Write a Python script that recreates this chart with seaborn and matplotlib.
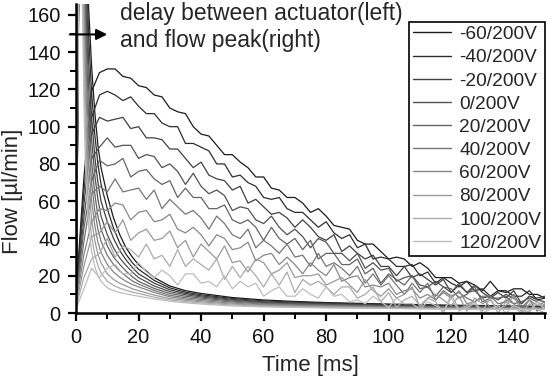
import matplotlib
matplotlib.use('Agg')
import matplotlib.pyplot as plt
from matplotlib.ticker import MultipleLocator
import seaborn as sns

# ---- data -------------------------------------------------------------------
labels = ['-60/200V', '-40/200V', '-20/200V', '0/200V', '20/200V',
          '40/200V', '60/200V', '80/200V', '100/200V', '120/200V']

# measured flow [ul/min], sampled every 2.5 ms
t_flow = [0, 2.5, 5, 7.5, 10, 12.5, 15, 17.5, 20, 22.5, 25, 27.5, 30, 32.5, 35,
          37.5, 40, 42.5, 45, 47.5, 50, 52.5, 55, 57.5, 60, 62.5, 65, 67.5, 70,
          72.5, 75, 77.5, 80, 82.5, 85, 87.5, 90, 92.5, 95, 97.5, 100, 102.5,
          105, 107.5, 110, 112.5, 115, 117.5, 120, 122.5, 125, 127.5, 130,
          132.5, 135, 137.5, 140, 142.5, 145, 147.5, 150]

flow_m60 = [10, 72, 119, 129, 131, 131, 127, 126, 122, 121,
            117, 116, 110, 108, 107, 100, 96, 95, 90, 85,
            85, 81, 78, 73, 73, 67, 66, 62, 62, 59,
            54, 56, 52, 47, 46, 45, 39, 37, 37, 33,
            29, 30, 29, 25, 27, 24, 19, 19, 19, 16,
            17, 15, 12, 17, 12, 11, 13, 13, 10, 10, 8]
flow_m40 = [9, 65, 105, 117, 119, 117, 114, 116, 111, 107,
            107, 102, 100, 100, 91, 91, 89, 87, 80, 80,
            73, 74, 70, 68, 62, 61, 62, 56, 54, 54,
            50, 46, 49, 43, 40, 42, 35, 37, 29, 30,
            29, 25, 25, 26, 20, 22, 16, 19, 16, 14,
            17, 12, 13, 9, 12, 12, 9, 9, 12, 7, 8]
flow_m20 = [8, 58, 96, 105, 103, 104, 105, 99, 100, 94,
            94, 93, 88, 88, 83, 78, 81, 74, 72, 71,
            66, 68, 59, 61, 57, 53, 54, 51, 46, 50,
            46, 41, 39, 42, 33, 36, 32, 29, 31, 25,
            25, 20, 25, 19, 21, 18, 15, 18, 11, 15,
            11, 15, 11, 8, 11, 8, 12, 5, 9, 8, 9]
flow_0 = [7, 51, 83, 89, 94, 89, 90, 90, 83, 85,
          84, 78, 80, 76, 69, 75, 68, 64, 66, 63,
          55, 57, 56, 50, 48, 52, 46, 42, 45, 41,
          35, 40, 38, 32, 32, 28, 32, 24, 27, 23,
          24, 17, 19, 20, 15, 14, 17, 14, 11, 16,
          11, 12, 8, 9, 7, 10, 8, 5, 9, 7, 6]
flow_20 = [7, 45, 71, 82, 79, 80, 83, 73, 76, 77,
           72, 69, 71, 62, 67, 62, 62, 56, 56, 58,
           50, 48, 50, 46, 39, 46, 40, 37, 40, 34,
           39, 29, 32, 32, 26, 26, 29, 21, 24, 16,
           21, 18, 15, 20, 13, 14, 9, 14, 13, 8,
           10, 14, 6, 8, 8, 9, 5, 6, 8, 6, 3]
flow_40 = [6, 38, 64, 68, 65, 72, 65, 66, 67, 61,
           66, 56, 61, 57, 53, 55, 51, 45, 52, 48,
           42, 40, 45, 35, 39, 36, 32, 37, 30, 31,
           25, 32, 25, 27, 24, 20, 25, 16, 21, 15,
           20, 15, 10, 16, 11, 16, 7, 12, 9, 11,
           8, 6, 9, 9, 5, 6, 10, 3, 7, 1, 5]
flow_60 = [5, 31, 49, 56, 55, 59, 58, 50, 54, 55,
           49, 50, 53, 45, 43, 46, 42, 36, 42, 40,
           34, 35, 38, 28, 31, 32, 26, 30, 26, 21,
           27, 23, 20, 26, 17, 19, 20, 14, 15, 14,
           16, 10, 12, 13, 8, 10, 7, 11, 8, 12,
           5, 6, 8, 3, 3, 7, 5, 1, 7, 4, 6]
flow_80 = [4, 25, 41, 43, 49, 43, 50, 39, 43, 45,
           39, 40, 44, 35, 39, 30, 37, 33, 29, 36,
           27, 28, 22, 29, 27, 21, 23, 27, 19, 20,
           20, 21, 15, 17, 19, 15, 11, 18, 12, 9,
           13, 8, 10, 14, 3, 8, 10, 7, 4, 9,
           1, 8, 5, 7, 2, 4, 9, 1, 1, 6, 3]
flow_100 = [3, 19, 29, 32, 40, 30, 36, 34, 30, 37,
            29, 31, 25, 34, 25, 29, 26, 23, 29, 18,
            25, 19, 25, 20, 14, 21, 15, 22, 11, 18,
            15, 17, 14, 10, 14, 14, 8, 10, 14, 6,
            11, 3, 7, 9, 4, 8, 6, 0, 10, 2,
            4, 6, 1, 8, 0, 6, 3, 0, 5, 2, 0]
flow_120 = [2, 13, 24, 19, 24, 26, 21, 21, 27, 22,
            19, 23, 20, 15, 21, 21, 16, 17, 14, 20,
            13, 17, 14, 16, 9, 12, 14, 9, 9, 13,
            10, 8, 14, 9, 10, 6, 7, 5, 9, 6,
            3, 8, 5, 5, 2, 6, 4, 1, 8, 1,
            3, 5, 0, 2, 4, 0, 4, 2, 0, 6, 2]

# actuator signal (shoots off the top, then decays)
t_act = [0, 0.5, 1, 1.5, 2, 2.5, 3, 3.5, 4, 5, 6, 7, 8, 10, 12, 14, 16, 18, 20, 25,
         30, 35, 40, 50, 60, 70, 80, 100, 120, 150]

act_m60 = [0, 90, 200, 260, 280, 260, 225, 192, 165, 132, 108, 90, 78, 63, 51, 42, 35,
           30, 26, 19, 14.5, 12, 10.5, 8.3, 7, 6.2, 5.6, 4.8, 4.2, 3.6]
act_m40 = [0, 92, 205, 262, 275, 250, 212, 178, 150, 118, 96, 80, 69, 56, 45.5, 37.5,
           31.5, 27, 23.5, 17.5, 13.5, 11.2, 9.8, 7.8, 6.5, 5.8, 5.3, 4.5, 3.9, 3.4]
act_m20 = [0, 95, 208, 262, 268, 238, 198, 163, 136, 105, 84, 70, 60, 49, 40, 33.5,
           28.5, 24.5, 21, 16, 12.5, 10.5, 9.2, 7.3, 6, 5.4, 5, 4.2, 3.7, 3.2]
act_0 = [0, 98, 210, 258, 258, 225, 182, 148, 122, 93, 74, 61, 52, 42, 35, 29.5, 25.5,
         22, 19, 14.5, 11.5, 9.8, 8.6, 6.9, 5.6, 5, 4.6, 3.9, 3.4, 3.0]
act_20 = [0, 102, 213, 255, 245, 208, 166, 133, 108, 81, 64, 52, 45, 36, 30, 26, 22.5,
          19.5, 17, 13.2, 10.5, 9, 8, 6.4, 5.2, 4.7, 4.3, 3.6, 3.2, 2.8]
act_40 = [0, 105, 216, 250, 230, 190, 150, 118, 95, 70, 55, 45, 38.5, 31, 26, 22.5,
          19.8, 17.2, 15.5, 12.1, 9.5, 8.2, 7.3, 5.9, 4.8, 4.3, 4, 3.4, 3, 2.6]
act_60 = [0, 108, 218, 246, 215, 172, 133, 103, 82, 60, 47, 38, 32.5, 26, 22, 19.2, 17,
          15.3, 14, 11, 8.7, 7.5, 6.6, 5.3, 4.4, 4, 3.7, 3.1, 2.7, 2.4]
act_80 = [0, 112, 220, 242, 200, 155, 116, 88, 69, 50, 39, 31.5, 27, 21, 18, 16, 14.5,
          13, 12, 9.6, 7.8, 6.8, 6, 4.8, 4, 3.6, 3.3, 2.8, 2.4, 2.2]
act_100 = [0, 116, 222, 236, 185, 135, 98, 74, 57, 41, 31.5, 25.5, 21.5, 17, 14.8, 13.3,
           12.2, 11.2, 10.5, 8.5, 7, 6.1, 5.4, 4.3, 3.6, 3.3, 3, 2.6, 2.2, 2]
act_120 = [0, 120, 220, 230, 170, 115, 80, 60, 47, 33, 25, 20, 17, 13.5, 12, 11, 10.3,
           9.6, 9, 7.5, 6.3, 5.5, 4.8, 3.8, 3.3, 3, 2.7, 2.4, 2.1, 1.9]

flows = [flow_m60, flow_m40, flow_m20, flow_0, flow_20,
         flow_40, flow_60, flow_80, flow_100, flow_120]
acts = [act_m60, act_m40, act_m20, act_0, act_20,
        act_40, act_60, act_80, act_100, act_120]

greys = ['#1c1c1c', '#2e2e2e', '#404040', '#525252', '#646464',
         '#767676', '#888888', '#9a9a9a', '#ababab', '#bdbdbd']

# ---- plot --------------------------------------------------------------------
sns.set_style('ticks')
plt.rcParams['font.family'] = ['Liberation Sans', 'DejaVu Sans']

fig = plt.figure(figsize=(5.5, 3.85), dpi=100)
ax = fig.add_axes([0.1382, 0.1870, 0.8527, 0.8034])

for lab, col, fl, ac in zip(labels, greys, flows, acts):
    sns.lineplot(x=t_flow, y=fl, color=col, lw=0.9, ax=ax, label=lab,
                 estimator=None)
    sns.lineplot(x=t_act, y=ac, color=col, lw=0.9, ax=ax, legend=False,
                 estimator=None)

ax.set_xlim(0, 150)
ax.set_ylim(0, 166)
ax.xaxis.set_major_locator(MultipleLocator(20))
ax.xaxis.set_minor_locator(MultipleLocator(10))
ax.yaxis.set_major_locator(MultipleLocator(20))
ax.yaxis.set_minor_locator(MultipleLocator(10))
ax.tick_params(which='major', direction='out', length=6, width=1.6,
               labelsize=14.4, pad=5, color='black', labelcolor='#111111')
ax.tick_params(which='minor', direction='out', length=4, width=1.4, color='black')
sns.despine(ax=ax)
for side in ('left', 'bottom'):
    ax.spines[side].set_linewidth(1.8)
    ax.spines[side].set_color('black')

ax.set_xlabel('Time [ms]', fontsize=16)
ax.set_ylabel('Flow [µl/min]', fontsize=16)
ax.xaxis.set_label_coords(0.5, -0.135)
ax.yaxis.set_label_coords(-0.113, 0.395)

ax.text(14.1, 157, 'delay between actuator(left)', fontsize=16.5,
        ha='left', va='baseline')
ax.text(14.1, 142.7, 'and flow peak(right)', fontsize=16.5,
        ha='left', va='baseline')
ax.annotate('', xy=(10, 149.5), xytext=(-2, 149.5), annotation_clip=False,
            arrowprops=dict(arrowstyle='-|>', color='black', lw=1.5,
                            mutation_scale=16, shrinkA=0, shrinkB=0))

leg = ax.legend(loc='upper right', bbox_to_anchor=(1.0, 0.941),
                borderaxespad=0, fontsize=13.8, frameon=True, fancybox=False,
                framealpha=1, edgecolor='black', handlelength=2.0,
                handletextpad=0.4, labelspacing=0.3, borderpad=0.2)
leg.get_frame().set_linewidth(1.2)
for line in leg.get_lines():
    line.set_linewidth(1.0)

fig.savefig('out.png', dpi=100)
